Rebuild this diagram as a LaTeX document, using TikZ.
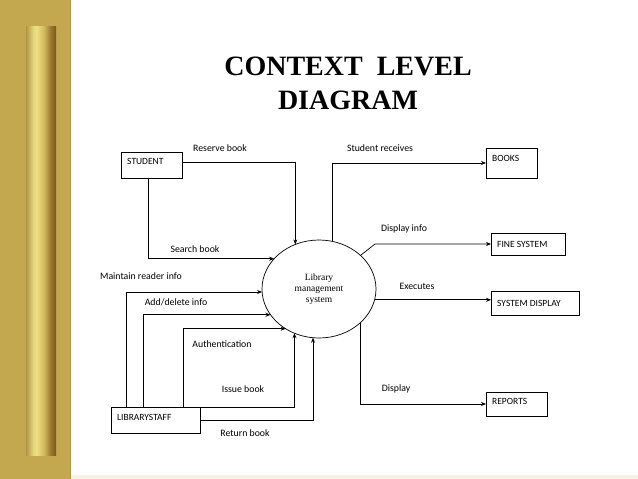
\documentclass[tikz,border=0pt]{standalone}
\usepackage{fontspec}
\setmainfont{Liberation Serif}
\newfontfamily\lblfont{Carlito}
\usetikzlibrary{arrows.meta,shapes.geometric}
\definecolor{panelgold}{HTML}{C4A84F}
\definecolor{paneledge}{HTML}{B39843}
\definecolor{barA}{HTML}{B09546}
\definecolor{barB}{HTML}{E6D67C}
\definecolor{barC}{HTML}{F0E284}
\definecolor{barD}{HTML}{D2B85C}
\definecolor{barE}{HTML}{9A7830}
\definecolor{barF}{HTML}{7A561C}
\definecolor{footline}{HTML}{F7F2E6}
\pgfdeclarehorizontalshading{barshade}{100bp}{color(0bp)=(barA); color(25bp)=(barA); color(37bp)=(barB); color(42bp)=(barC); color(55bp)=(barD); color(66bp)=(barE); color(75bp)=(barF); color(100bp)=(barF)}
\begin{document}
\begin{tikzpicture}[x=1pt,y=-1pt,
  ln/.style={line width=0.7pt},
  flow/.style={ln,-{Stealth[length=5pt,width=4pt]}},
  boxshape/.style={draw,ln,rectangle,inner sep=0pt,outer sep=0pt,anchor=north west},
  boxtext/.style={anchor=west,inner sep=0pt,font=\lblfont\fontsize{9.5}{11}\selectfont},
  lbl/.style={inner sep=0pt,font=\lblfont\fontsize{9.8}{11}\selectfont}]
\useasboundingbox (0,0) rectangle (638,479);
\fill[white] (0,0) rectangle (638,479);
\fill[footline] (70,475) rectangle (638,479);
% left decorative panel
\fill[panelgold] (0,0) rectangle (70,479);
\draw[paneledge,line width=1pt] (70,0) -- (70,479);
\shade[shading=barshade] (26,26) rectangle (56,455);
% title
\node[font=\bfseries\fontsize{28}{34}\selectfont,align=center] (title) at (348,83) {CONTEXT\ \ LEVEL\\DIAGRAM};
% central process
\node[ellipse,draw,ln,minimum width=114pt,minimum height=98pt,inner sep=0pt,outer sep=0pt,align=center,font=\fontsize{9.5}{11}\selectfont] (ell) at (319,289) {Library\\management\\system};
% external entities
\node[boxshape,minimum width=61pt,minimum height=26pt] (student) at (121,152) {};
\node[boxtext] (studentT) at (127,161) {STUDENT};
\node[boxshape,minimum width=89pt,minimum height=26pt] (staff) at (111,407) {};
\node[boxtext] (staffT) at (117,417) {LIBRARYSTAFF};
\node[boxshape,minimum width=51pt,minimum height=30pt] (books) at (486,148) {};
\node[boxtext] (booksT) at (492,158) {BOOKS};
\node[boxshape,minimum width=74pt,minimum height=22pt] (fine) at (491,233) {};
\node[boxtext] (fineT) at (497,244) {FINE SYSTEM};
\node[boxshape,minimum width=88pt,minimum height=24pt] (sysd) at (491,291) {};
\node[boxtext] (sysdT) at (497,303) {SYSTEM DISPLAY};
\node[boxshape,minimum width=61pt,minimum height=24pt] (reports) at (486,392) {};
\node[boxtext] (reportsT) at (492,401) {REPORTS};
% flows into the system
\draw[flow] ([yshift=3pt]student.east) -| (ell.118.4);
\draw[flow] ([xshift=-3.5pt]student.south) |- (ell.146.4);
\draw[flow] ([xshift=-29.5pt]staff.north) |- (ell.183);
\draw[flow] ([xshift=-12.5pt]staff.north) |- (ell.208.3);
\draw[flow] ([xshift=27.5pt]staff.north) |- (ell.230.6);
\draw[flow] (staff.north east) -| (ell.241.6);
\draw[flow] (staff.east) -| (ell.263);
% flows out of the system
\draw[flow] (ell.74.8) |- (books.west);
\coordinate (dk) at (375,244);
\draw[flow] (ell.39.7) -- (dk) -- (fine.west);
\draw[flow] (ell.349.9) -- (ell.349.9 -| sysd.west);
\draw[flow] (ell.321.8) |- (reports.west);
% labels
\node[lbl] (l1) at (220,148) {Reserve book};
\node[lbl] (l2) at (195,249) {Search book};
\node[lbl] (l3) at (141,276) {Maintain reader info};
\node[lbl] (l4) at (176,302) {Add/delete info};
\node[lbl] (l5) at (222,344) {Authentication};
\node[lbl] (l6) at (243,389) {Issue book};
\node[lbl] (l7) at (245,433) {Return book};
\node[lbl] (l8) at (380,148) {Student receives};
\node[lbl] (l9) at (404,229) {Display info};
\node[lbl] (l10) at (417,286) {Executes};
\node[lbl] (l11) at (396,389) {Display};
\end{tikzpicture}
\end{document}
